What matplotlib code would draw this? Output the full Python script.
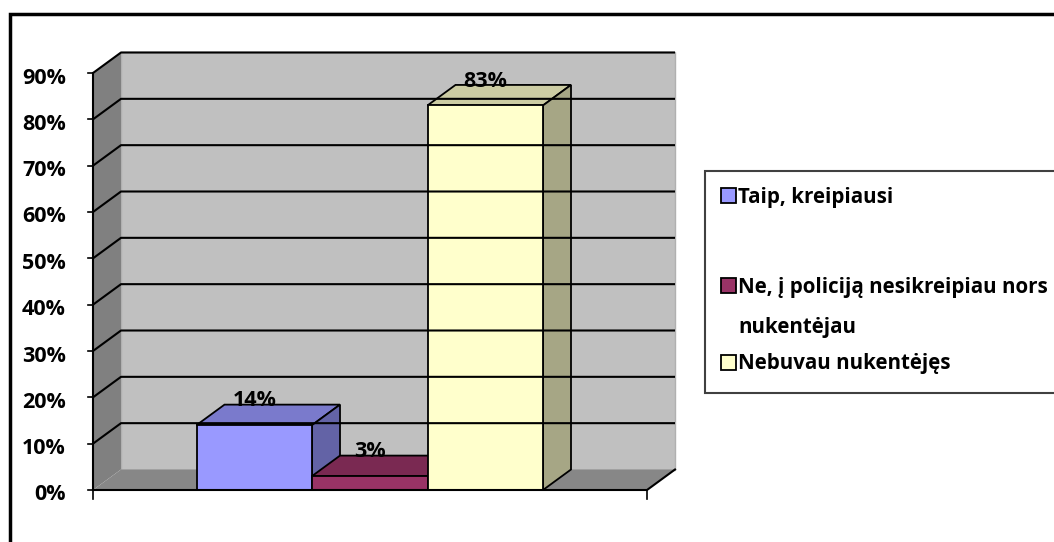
import matplotlib
matplotlib.use("Agg")
import matplotlib.pyplot as plt
from matplotlib.patches import Polygon, Rectangle
from matplotlib.colors import to_rgb

plt.rcParams['font.family'] = ['Open Sans', 'DejaVu Sans']
plt.rcParams['font.weight'] = 'bold'

# data
categories = ["Taip, kreipiausi",
              "Ne, į policiją nesikreipiau nors\nnukentėjau",
              "Nebuvau nukentėjęs"]
values = [14, 3, 83]
value_labels = ["14%", "3%", "83%"]
y_ticks = [0, 10, 20, 30, 40, 50, 60, 70, 80, 90]
y_tick_labels = ["0%", "10%", "20%", "30%", "40%", "50%", "60%", "70%", "80%", "90%"]
bar_colors = ["#9999FF", "#993366", "#FFFFCC"]

W, H = 1054, 542
fig = plt.figure(figsize=(W / 100, H / 100), dpi=100)
ax = fig.add_axes([0, 0, 1, 1])
ax.set_axis_off()

# front plane: pixel x 93..647 -> 0..1, pixel y 490..73 -> 0..90
X0, X1 = 93, 647
Y0, Y90 = 490, 73
sx = 1.0 / (X1 - X0)
sy = 90.0 / (Y0 - Y90)
ax.set_xlim(-X0 * sx, (W - X0) * sx)
ax.set_ylim(-(H - Y0) * sy, Y0 * sy)

dx = 28 * sx      # depth offset
dy = 20.5 * sy
ymax = y_ticks[-1]


def shade(c, f):
    r, g, b = to_rgb(c)
    return (r * f, g * f, b * f)


# walls and floor
ax.add_patch(Polygon([(dx, dy), (1 + dx, dy), (1 + dx, ymax + dy), (dx, ymax + dy)],
                     closed=True, facecolor="#C0C0C0", edgecolor="#B0B0B0", lw=1))
ax.add_patch(Polygon([(0, 0), (dx, dy), (dx, ymax + dy), (0, ymax)],
                     closed=True, facecolor="#808080", edgecolor="none"))
ax.add_patch(Polygon([(0, 0), (1, 0), (1 + dx, dy), (dx, dy)],
                     closed=True, facecolor="#878787", edgecolor="none"))

# gridlines
for t in y_ticks[1:]:
    ax.plot([0, dx, 1 + dx], [t, t + dy, t + dy], color="black", lw=1.5,
            solid_capstyle="butt")

# bars
bw = 115.5 * sx
start = 103.5 * sx
for i, (v, c) in enumerate(zip(values, bar_colors)):
    x = start + i * bw
    ax.add_patch(Polygon([(x, v), (x + bw, v), (x + bw + dx, v + dy), (x + dx, v + dy)],
                         closed=True, facecolor=shade(c, 0.8), edgecolor="black", lw=1.3))
    ax.add_patch(Polygon([(x + bw, 0), (x + bw + dx, dy), (x + bw + dx, v + dy), (x + bw, v)],
                         closed=True, facecolor=shade(c, 0.65), edgecolor="black", lw=1.3))
    ax.add_patch(Rectangle((x, 0), bw, v, facecolor=c, edgecolor="black", lw=1.3))

for i, (v, lab) in enumerate(zip(values, value_labels)):
    x = start + i * bw + bw / 2
    ax.text(x, v + dy - 0.4, lab, ha="center", va="baseline", fontsize=15.5,
            fontweight="bold", color="black")

# axes lines and ticks
ax.plot([0, 0], [0, ymax], color="black", lw=1.5)
ax.plot([0, 1, 1 + dx], [0, 0, dy], color="black", lw=1.5)
for t, lab in zip(y_ticks, y_tick_labels):
    ax.plot([-5 * sx, 0], [t, t], color="black", lw=1.2)
    ax.text(-27 * sx, t - 5 * sy, lab, ha="right", va="center", fontsize=15.5,
            fontweight="bold")
for xe in [0, 1]:
    ax.plot([xe, xe], [0, -9 * sy], color="black", lw=1.2)


# legend, drawn in pixel positions
def fx(p):
    return p / W


def fy(p):
    return 1 - p / H


fig.patches.append(Rectangle((fx(705), fy(393)), fx(1070) - fx(705), fy(171) - fy(393),
                             transform=fig.transFigure, facecolor="white",
                             edgecolor="#404040", lw=1.5))
leg_y = [195, 285, 362]
for lab, c, yy in zip(categories, bar_colors, leg_y):
    fig.patches.append(Rectangle((fx(721), fy(yy + 7.5)), fx(15), 15 / H,
                                 transform=fig.transFigure, facecolor=c,
                                 edgecolor="black", lw=1.3))
    for k, ln in enumerate(lab.split("\n")):
        fig.text(fx(738), fy(yy + 2 + 41 * k), ln, ha="left", va="center",
                 fontsize=14.8, fontweight="bold")

# outer frame
fig.patches.append(Rectangle((fx(10), fy(600)), fx(1100), fy(14) - fy(600),
                             transform=fig.transFigure, facecolor="none",
                             edgecolor="black", lw=2.5))

fig.savefig("out.png", dpi=100)
